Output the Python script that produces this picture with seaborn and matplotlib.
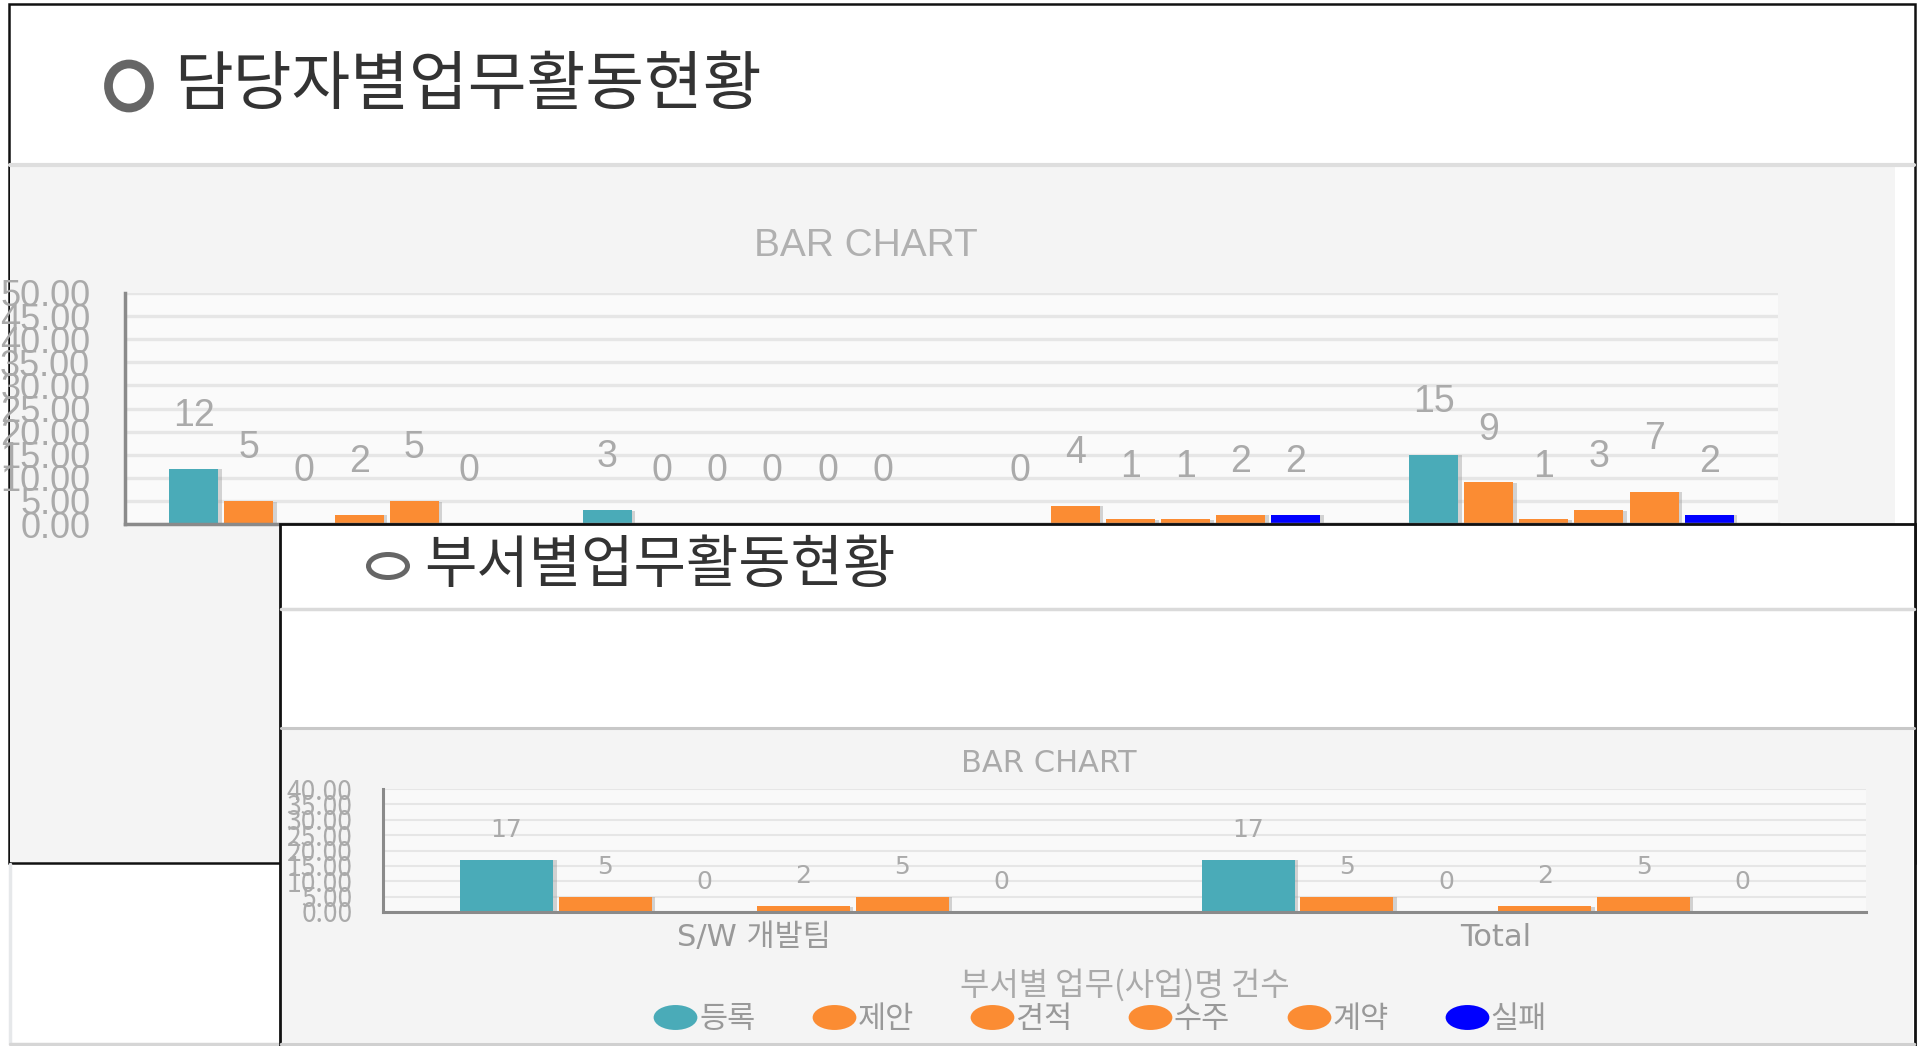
import numpy as np
import pandas as pd
import seaborn as sns
import matplotlib.pyplot as plt
import matplotlib.patheffects as pe
from matplotlib.patches import Rectangle, Ellipse
from matplotlib.lines import Line2D
from matplotlib.path import Path
from matplotlib.markers import MarkerStyle
from matplotlib.transforms import Affine2D
from matplotlib.ticker import FormatStrFormatter

# 시리즈 (범례 순서)
series = ["등록", "제안", "견적", "수주", "계약", "실패"]
series_colors = ["#4aabb8", "#fb8c33", "#fb8c33", "#fb8c33", "#fb8c33", "#0000ff"]

# 담당자별 (x 라벨은 아래 패널에 가려짐)
staff_names = ["담당자A", "담당자B", "담당자C", "Total"]
staff_reg = [12, 3, 0, 15]
staff_prop = [5, 0, 4, 9]
staff_quote = [0, 0, 1, 1]
staff_order = [2, 0, 1, 3]
staff_contract = [5, 0, 2, 7]
staff_fail = [0, 0, 2, 2]

# 부서별
dept_names = ["S/W 개발팀", "Total"]
dept_reg = [17, 17]
dept_prop = [5, 5]
dept_quote = [0, 0]
dept_order = [2, 2]
dept_contract = [5, 5]
dept_fail = [0, 0]

W, H = 1919, 1046
KR = ["Noto Sans CJK KR", "DejaVu Sans"]
LATIN_KR = ["DejaVu Sans", "Noto Sans CJK KR"]

sns.set_style("white")
plt.rcParams["font.family"] = KR


def long_df(names, cols):
    rows = []
    for s, vals in zip(series, cols):
        for n, v in zip(names, vals):
            rows.append({"name": n, "series": s, "value": v})
    return pd.DataFrame(rows)


def fx(x):
    return x / W


def fy(y):
    return 1 - y / H


def box(x0, y0, x1, y1):
    return [fx(x0), fy(y1), (x1 - x0) / W, (y1 - y0) / H]


def rect(x0, y0, x1, y1, z, **kw):
    fig.add_artist(Rectangle((fx(x0), fy(y1)), (x1 - x0) / W, (y1 - y0) / H,
                             transform=fig.transFigure, zorder=z, **kw))


def line(xs, ys, z, **kw):
    fig.add_artist(Line2D([fx(x) for x in xs], [fy(y) for y in ys],
                          transform=fig.transFigure, zorder=z, **kw))


def draw_bars(ax, df, n, gap, ymax, lab_font, lab_size, lab_off):
    sns.barplot(data=df, x="name", y="value", hue="series", hue_order=series,
                palette=dict(zip(series, series_colors)), width=0.8, gap=gap,
                saturation=1, errorbar=None, linewidth=0, legend=False, ax=ax)
    for p in ax.patches:
        p.set_path_effects([pe.SimplePatchShadow(offset=(2.5, -0.5),
                                                 shadow_rgbFace="#888888", alpha=0.35),
                            pe.Normal()])
    for cont in ax.containers:
        for bar, v in zip(cont, cont.datavalues):
            ax.annotate(f"{int(v)}", (bar.get_x() + bar.get_width() / 2, v),
                        xytext=(0, lab_off), textcoords="offset points",
                        ha="center", va="center", fontsize=lab_size,
                        family=lab_font, color="#aaaaaa")
    ax.set_xlim(-0.5, n - 0.5)
    ax.set_ylim(0, ymax)
    ax.set_yticks(np.arange(0, ymax + 1, 5))
    ax.yaxis.set_major_formatter(FormatStrFormatter("%.2f"))
    ax.set_xticks(np.arange(-0.5, n), minor=True)
    ax.set_axisbelow(True)
    ax.set_ylabel("")
    ax.set_xlabel("")
    for s in ["top", "right"]:
        ax.spines[s].set_visible(False)


fig = plt.figure(figsize=(W / 100, H / 100), dpi=100)
fig.patch.set_facecolor("white")

# ---- 위 패널 : 담당자별업무활동현황 ----
rect(9, 4, 1915, 863, 0.1, facecolor="white", edgecolor="#111111", linewidth=1.8)
rect(10, 167, 1895, 862, 0.2, facecolor="#f4f4f4", edgecolor="none")
line([10, 1914], [165, 165], 0.3, color="#dedede", linewidth=3)
line([10, 10], [864, 1043], 0.3, color="#e6e8ea", linewidth=2.5)
line([10, 1915], [1044, 1044], 0.3, color="#d6d6d6", linewidth=2.5)
fig.add_artist(Ellipse((fx(129), fy(86)), 41 / W, 44 / H, transform=fig.transFigure,
                       fill=False, edgecolor="#666666", linewidth=6.3, zorder=0.4))
fig.text(fx(174), fy(86), "담당자별업무활동현황", fontsize=46, color="#333333",
         ha="left", va="center", family=KR, zorder=0.4)
fig.text(fx(866), fy(246), "BAR CHART", fontsize=28, color="#b0b0b0",
         ha="center", va="center", family="Liberation Sans", zorder=0.4)

ax1 = fig.add_axes(box(125, 293, 1778, 524))
ax1.set_zorder(1)
ax1.set_facecolor("#fafafa")
staff_df = long_df(staff_names, [staff_reg, staff_prop, staff_quote,
                                 staff_order, staff_contract, staff_fail])
draw_bars(ax1, staff_df, len(staff_names), 0.11, 50, "Liberation Sans", 27, 38)
ax1.grid(axis="y", color="#e6e6e6", linewidth=2.4)
for s in ["left", "bottom"]:
    ax1.spines[s].set_color("#8a8a8a")
    ax1.spines[s].set_linewidth(2.5)
ax1.tick_params(axis="y", length=20, width=2.2, color="#8a8a8a", pad=5,
                labelsize=26, labelcolor="#aaaaaa")
ax1.tick_params(axis="x", which="major", length=0, labelbottom=False)
ax1.tick_params(axis="x", which="minor", length=17, width=2.2, color="#8a8a8a")
plt.setp(ax1.get_yticklabels(), family="Liberation Sans")

# ---- 아래 패널 : 부서별업무활동현황 ----
rect(280, 524, 1915, 1060, 5, facecolor="white", edgecolor="#111111", linewidth=2.0)
rect(282, 729, 1913, 1042, 5.1, facecolor="#f4f4f4", edgecolor="none")
line([281, 1914], [609, 609], 5.2, color="#dadada", linewidth=2.5)
line([281, 1914], [728, 728], 5.2, color="#c8c8c8", linewidth=2.2)
line([281, 1914], [1044, 1044], 5.2, color="#d0d0d0", linewidth=2.5)
fig.add_artist(Ellipse((fx(388), fy(566)), 39 / W, 23 / H, transform=fig.transFigure,
                       fill=False, edgecolor="#666666", linewidth=3.6, zorder=5.3))
fig.text(fx(424), fy(566), "부서별업무활동현황", fontsize=41, color="#333333",
         ha="left", va="center", family=KR, zorder=5.3)
fig.text(fx(1049), fy(764), "BAR CHART", fontsize=22, color="#aaaaaa",
         ha="center", va="center", family="DejaVu Sans", zorder=5.3)

ax2 = fig.add_axes(box(383, 789, 1866, 912))
ax2.set_zorder(6)
ax2.set_facecolor("#f9f9f9")
dept_df = long_df(dept_names, [dept_reg, dept_prop, dept_quote,
                               dept_order, dept_contract, dept_fail])
draw_bars(ax2, dept_df, len(dept_names), 0.06, 40, "DejaVu Sans", 18, 21.5)
ax2.grid(axis="y", color="#e6e6e6", linewidth=1.5)
for s in ["left", "bottom"]:
    ax2.spines[s].set_color("#8a8a8a")
    ax2.spines[s].set_linewidth(2.2)
ax2.tick_params(axis="y", length=21.5, width=1.5, color="#8a8a8a", pad=0.5,
                labelsize=19, labelcolor="#aaaaaa")
ax2.tick_params(axis="x", which="major", length=0, pad=8, labelsize=22,
                labelcolor="#999999")
ax2.tick_params(axis="x", which="minor", length=11, width=2.2, color="#8a8a8a")
plt.setp(ax2.get_xticklabels(), family=LATIN_KR)
ax2.set_xlabel("부서별 업무(사업)명 건수", fontsize=23, color="#aaaaaa",
               family=KR, labelpad=12)

# 범례 (타원 마커)
oval = MarkerStyle(Path.unit_circle().transformed(Affine2D().scale(1.0, 0.57)))
handles = [Line2D([], [], linestyle="none", marker=oval, markersize=31.5,
                  markerfacecolor=c, markeredgewidth=0) for c in series_colors]
leg = fig.legend(handles, series, loc="center", bbox_to_anchor=(fx(1100), fy(1019)),
                 ncol=6, frameon=False, handlelength=1.45, handletextpad=0.05,
                 columnspacing=1.84, prop={"family": LATIN_KR, "size": 22},
                 labelcolor="#999999")
leg.set_zorder(8)

fig.savefig("out.png", dpi=100, facecolor="white")
